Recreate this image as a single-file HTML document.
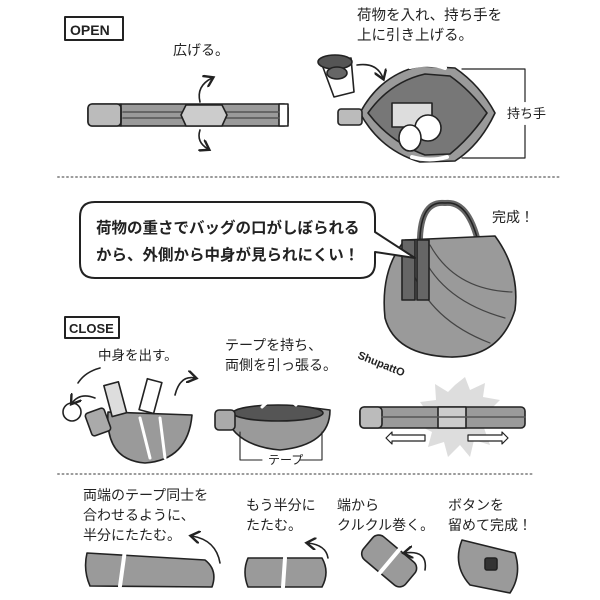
<!DOCTYPE html>
<html><head><meta charset="utf-8"><style>
html,body{margin:0;padding:0;background:#fff;overflow:hidden;width:600px;height:600px}
svg{display:block}
text{font-family:"Liberation Sans","Noto Sans CJK JP",sans-serif;fill:#222}
</style></head><body>
<svg width="600" height="600" viewBox="0 0 600 600" xmlns="http://www.w3.org/2000/svg">
<defs>
<marker id="ah" markerWidth="8" markerHeight="8" refX="5" refY="4" orient="auto"><path d="M0,0 L6,4 L0,8" fill="none" stroke="#222" stroke-width="1.5"/></marker>
</defs>
<g stroke="#222" stroke-width="1.6" stroke-linecap="round" stroke-linejoin="round">
<!-- OPEN -->
<rect x="65" y="17" width="58" height="23" fill="#fff" stroke-width="2"/>
<!-- flat strap -->
<rect x="88" y="104" width="200" height="22" rx="4" fill="#9a9a9a"/>
<rect x="88" y="104" width="33" height="22" rx="4" fill="#bbb"/>
<line x1="121" y1="104" x2="121" y2="126"/>
<rect x="279" y="104" width="9" height="22" fill="#fff"/>
<line x1="123" y1="112" x2="279" y2="112" stroke="#555"/>
<line x1="123" y1="118" x2="279" y2="118" stroke="#555"/>
<path d="M186,105 L222,105 L227,115 L222,126 L186,126 L181,115 Z" fill="#ccc"/>
<path d="M200,102 Q196,86 212,78" fill="none" marker-end="url(#ah)"/>
<path d="M200,130 Q196,142 208,149" fill="none" marker-end="url(#ah)"/>
<!-- cup -->
<path d="M321,62 L351,58 L354,92 L334,97 Z" fill="#fff"/>
<ellipse cx="335" cy="62" rx="17" ry="7" fill="#555"/>
<ellipse cx="337" cy="73" rx="10" ry="6" fill="#666"/>
<path d="M357,65 Q377,62 383,78" fill="none" marker-end="url(#ah)"/>
<!-- open bag -->
<path d="M360,113 Q380,75 420,66 L455,68 Q480,85 495,113 Q480,145 455,161 L420,162 Q380,150 360,113 Z" fill="#9a9a9a"/>
<path d="M368,113 Q390,82 425,74 L450,76 Q470,90 487,113 Q470,138 450,154 L425,155 Q390,142 368,113 Z" fill="#777"/>
<rect x="392" y="103" width="40" height="24" fill="#ddd"/>
<circle cx="428" cy="128" r="13" fill="#fff"/>
<ellipse cx="410" cy="138" rx="11" ry="13" fill="#fff"/>
<rect x="338" y="109" width="24" height="16" rx="3" fill="#bbb"/>
<path d="M410,67 Q430,62 445,68" fill="none" stroke="#fff" stroke-width="4"/>
<path d="M412,157 Q430,162 447,157" fill="none" stroke="#fff" stroke-width="4"/>
<path d="M462,69 L525,69 L525,158 L462,158" fill="none" stroke-width="1.2"/>
<line x1="525" y1="105" x2="525" y2="122" stroke="#fff" stroke-width="6"/>
<!-- dotted 1 -->
<line x1="58" y1="177" x2="562" y2="177" stroke="#999" stroke-width="2" stroke-dasharray="1 3.5"/>
<!-- complete bag -->
<path d="M420,250 Q418,200 445,203 Q470,200 480,250" fill="none" stroke="#666" stroke-width="6"/>
<path d="M420,250 Q418,200 445,203 Q470,200 480,250" fill="none" stroke="#222" stroke-width="1.5"/>
<path d="M405,240 L495,236 Q520,270 515,310 Q500,358 450,357 Q395,355 385,318 Q380,270 405,240 Z" fill="#9a9a9a"/>
<path d="M420,250 Q440,300 505,318 M412,270 Q430,320 490,343 M430,245 Q455,290 512,292" fill="none" stroke="#444" stroke-width="1.2"/>
<rect x="402" y="240" width="13" height="60" fill="#666"/>
<rect x="417" y="240" width="12" height="60" fill="#666"/>
<!-- bubble -->
<path d="M95,202 L360,202 Q375,202 375,217 L375,232 L415,258 L375,252 L375,263 Q375,278 360,278 L95,278 Q80,278 80,263 L80,217 Q80,202 95,202 Z" fill="#fff" stroke-width="2"/>
<!-- CLOSE -->
<rect x="65" y="317" width="54" height="21" fill="#fff" stroke-width="2"/>
<!-- bag out -->
<path d="M108,412 Q105,460 145,463 Q188,460 192,415 Z" fill="#9a9a9a"/>
<path d="M140,418 L150,458 M160,418 L165,458" stroke="#fff" stroke-width="3"/>
<rect x="88" y="410" width="20" height="24" rx="3" fill="#aaa" transform="rotate(-20 98 422)"/>
<rect x="108" y="383" width="15" height="32" fill="#ddd" transform="rotate(-15 116 400)"/>
<rect x="143" y="380" width="15" height="32" fill="#fff" transform="rotate(15 150 396)"/>
<circle cx="72" cy="412" r="9" fill="#fff"/>
<path d="M78,383 Q85,372 100,368" fill="none"/>
<path d="M95,398 Q80,392 72,403" fill="none" marker-end="url(#ah)"/>
<path d="M175,395 Q180,375 195,378" fill="none" marker-end="url(#ah)"/>
<!-- bag pull -->
<path d="M225,415 Q260,400 330,410 Q330,445 280,450 Q235,446 225,415 Z" fill="#9a9a9a"/>
<ellipse cx="278" cy="413" rx="45" ry="8" fill="#555"/>
<path d="M262,407 Q280,390 296,405" fill="none" stroke="#fff" stroke-width="3"/>
<rect x="215" y="410" width="20" height="20" rx="4" fill="#aaa"/>
<path d="M240,432 L240,460 L262,460 M300,460 L322,460 L322,432" fill="none" stroke-width="1.1"/>
<!-- shupatto strap -->
<polygon points="455,385 465,377 470,390 485,383 483,397 500,400 490,410 495,425 484,428 490,445 474,440 470,457 460,445 448,457 444,442 428,447 432,432 418,425 430,416 420,402 436,400 435,384 448,392" fill="#ddd" stroke="none"/>
<rect x="360" y="407" width="165" height="21" rx="4" fill="#9a9a9a"/>
<rect x="360" y="407" width="22" height="21" rx="4" fill="#bbb"/>
<rect x="438" y="407" width="28" height="21" fill="#ccc"/>
<line x1="382" y1="417" x2="525" y2="417" stroke="#555"/>
<path d="M425,435 L392,435 L392,432 L386,438 L392,444 L392,441 L425,441 Z" fill="#fff" stroke-width="1.2"/>
<path d="M468,435 L502,435 L502,432 L508,438 L502,444 L502,441 L468,441 Z" fill="#fff" stroke-width="1.2"/>
<!-- dotted 2 -->
<line x1="58" y1="474" x2="533" y2="474" stroke="#999" stroke-width="2" stroke-dasharray="1 3.5"/>
<!-- bottom illus -->
<path d="M87,553 L205,560 Q218,570 212,587 L90,586 Q83,570 87,553 Z" fill="#9a9a9a"/>
<line x1="125" y1="550" x2="120" y2="586" stroke="#fff" stroke-width="4"/>
<path d="M220,563 Q216,540 192,536" fill="none" marker-end="url(#ah)"/>
<path d="M248,558 L322,558 Q330,572 322,587 L248,587 Q242,572 248,558 Z" fill="#9a9a9a"/>
<line x1="285" y1="558" x2="283" y2="587" stroke="#fff" stroke-width="4"/>
<path d="M328,558 Q326,545 308,543" fill="none" marker-end="url(#ah)"/>
<g transform="rotate(40 388 560)"><rect x="362" y="545" width="55" height="30" rx="8" fill="#9a9a9a"/><line x1="390" y1="545" x2="390" y2="575" stroke="#fff" stroke-width="4"/></g>
<path d="M425,570 Q428,550 405,553" fill="none" marker-end="url(#ah)"/>
<path d="M462,540 L515,553 Q522,575 510,593 L470,585 Q452,565 462,540 Z" fill="#9a9a9a"/>
<rect x="485" y="558" width="12" height="12" rx="2" fill="#333"/>
</g>
<g>
<text x="70" y="35" font-size="14" font-weight="bold">OPEN</text>
<text x="173" y="55" font-size="14">広げる。</text>
<text x="357" y="20" font-size="14.5">荷物を入れ、持ち手を</text>
<text x="357" y="40" font-size="14.5">上に引き上げる。</text>
<text x="507" y="118" font-size="13">持ち手</text>
<text x="96" y="233" font-size="15.5" font-weight="bold">荷物の重さでバッグの口がしぼられる</text>
<text x="96" y="260" font-size="15.5" font-weight="bold">から、外側から中身が見られにくい！</text>
<text x="492" y="222" font-size="14">完成！</text>
<text x="69" y="333" font-size="13" font-weight="bold">CLOSE</text>
<text x="98" y="360" font-size="13.5">中身を出す。</text>
<text x="225" y="350" font-size="14">テープを持ち、</text>
<text x="225" y="370" font-size="14">両側を引っ張る。</text>
<text x="268" y="464" font-size="12">テープ</text>
<text x="357" y="358" font-size="11" font-weight="bold" transform="rotate(22 357 358)">ShupattO</text>
<text x="83" y="500" font-size="14">両端のテープ同士を</text>
<text x="83" y="520" font-size="14">合わせるように、</text>
<text x="83" y="540" font-size="14">半分にたたむ。</text>
<text x="246" y="510" font-size="14">もう半分に</text>
<text x="246" y="530" font-size="14">たたむ。</text>
<text x="337" y="510" font-size="14">端から</text>
<text x="337" y="530" font-size="14">クルクル巻く。</text>
<text x="448" y="510" font-size="14">ボタンを</text>
<text x="448" y="530" font-size="14">留めて完成！</text>
</g>
</svg>
</body></html>
